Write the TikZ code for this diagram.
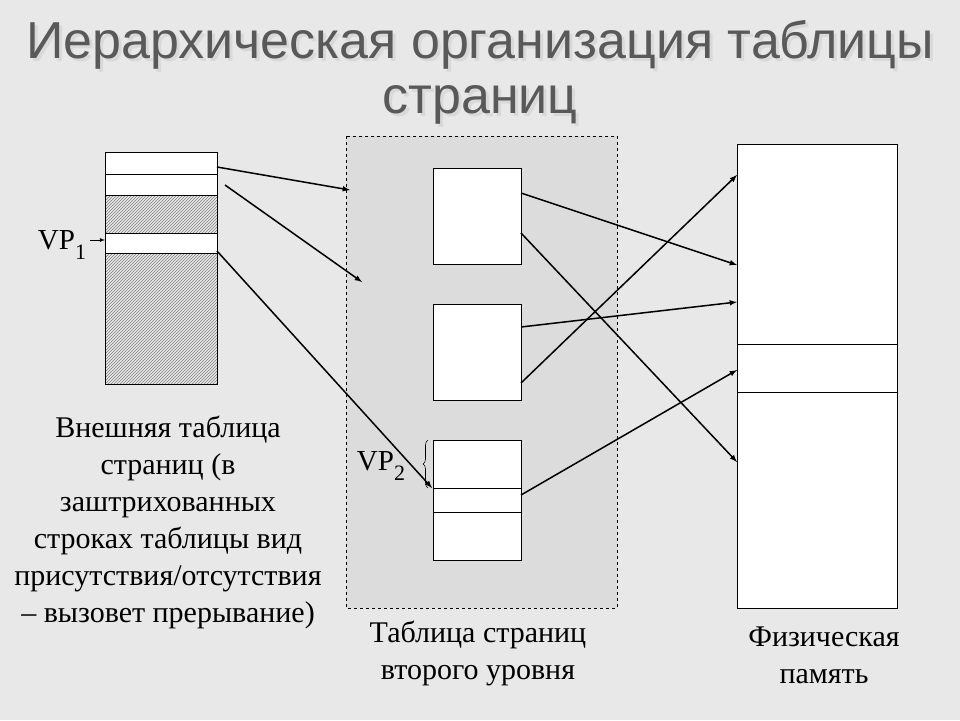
\documentclass[tikz,border=0pt]{standalone}
\usepackage{fontspec}
\setmainfont{Liberation Serif}
\newfontfamily\titlefont{Liberation Sans}
\usetikzlibrary{patterns,decorations.pathreplacing}
\definecolor{bg}{HTML}{E8E8E8}
\definecolor{inner}{HTML}{DCDCDC}
\tikzset{cell/.style={draw,fill=white,line width=1pt},
hat/.style={draw,line width=1pt,pattern=north east lines,pattern color=gray},
arr/.style={-latex,line width=1.5pt},
txt/.style={font=\fontsize{30}{37}\selectfont,align=center},
vp/.style={font=\fontsize{29}{32}\selectfont},
ttl/.style={font=\titlefont\fontsize{52}{56}\selectfont}}
\newcommand{\lowsub}[1]{\raisebox{-0.35em}{\fontsize{22}{24}\selectfont #1}}
\begin{document}
\begin{tikzpicture}[x=1pt,y=-1pt]
\fill[bg] (0,0) rectangle (960,720);
\useasboundingbox (0,0) rectangle (960,720);
\foreach \t/\y in {{Иерархическая организация таблицы}/45,{страниц}/105}{
\node[ttl,text=white!70!gray] at (483,\y+3) {\t};
\node[ttl,text=black!65] at (480,\y) {\t};}
\fill[inner] (346,136) rectangle (617,608);
\draw[dashed] (346,136) rectangle (617,608);
% left table
\draw[cell] (105,152) rectangle (217,174);
\draw[cell] (105,174) rectangle (217,195);
\draw[hat] (105,195) rectangle (217,233);
\draw[cell] (105,233) rectangle (217,253);
\draw[hat] (105,253) rectangle (217,384);
\coordinate (a1) at (217,167); \coordinate (a1e) at (350,190);
\coordinate (a2) at (225,185); \coordinate (a2e) at (362,282);
\coordinate (a3) at (217,251); \coordinate (a3e) at (432,488);
\node[vp] (vp1) at (62,245) {VP\lowsub{1}};
\coordinate (vp1s) at (90,240); \coordinate (vp1e) at (105,240);
\draw[-latex,line width=0.8pt] (vp1s) -- (vp1e);
% middle
\draw[cell] (433,168) rectangle (521,264);
\draw[cell] (433,304) rectangle (521,400);
\draw[cell] (433,440) rectangle (521,560);
\draw[line width=1pt] (433,488) -- (521,488) (433,512) -- (521,512);
\node[vp] (vp2) at (381,466) {VP\lowsub{2}};
\draw[decorate,decoration={brace,amplitude=5pt},line width=0.6pt] (428,488) -- (428,440);
% physical
\draw[cell] (737,144) rectangle (897,608);
\draw[line width=1pt] (737,344) -- (897,344) (737,392) -- (897,392);
\coordinate (b1) at (521,193); \coordinate (b1e) at (737,265);
\coordinate (b2) at (521,233); \coordinate (b2e) at (737,462);
\coordinate (b3) at (521,327); \coordinate (b3e) at (737,302);
\coordinate (b4) at (521,383); \coordinate (b4e) at (737,175);
\coordinate (b5) at (521,495); \coordinate (b5e) at (737,370);
\foreach \s in {a1,a2,a3,b1,b2,b3,b4,b5} \draw[arr] (\s) -- (\s e);
\node[txt] (lcap) at (168,522) {Внешняя таблица\\страниц (в\\заштрихованных\\строках таблицы вид\\присутствия/отсутствия\\– вызовет прерывание)};
\node[txt] (mcap) at (478,653) {Таблица страниц\\второго уровня};
\node[txt] (rcap) at (824,655) {Физическая\\память};
\end{tikzpicture}
\end{document}
